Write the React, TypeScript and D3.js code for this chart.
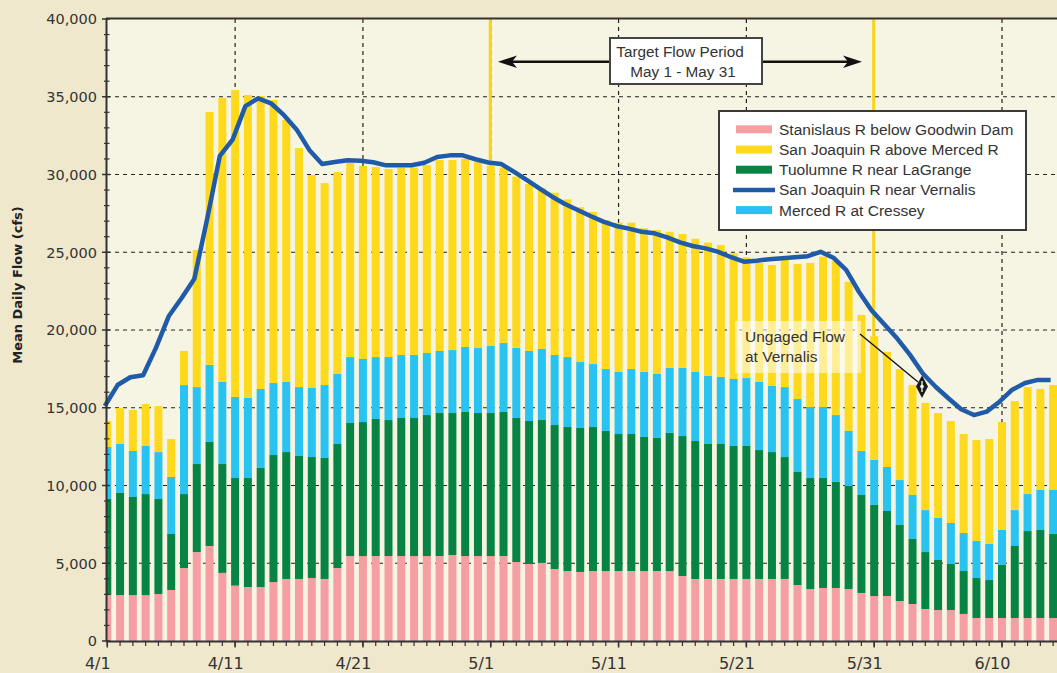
import React from "react";
import * as d3 from "d3";

// ---- categories: daily dates 4/1 .. 6/14 ----
const startDate = new Date(2006, 3, 1);
const endDate = new Date(2006, 5, 15);
const dates: Date[] = d3.timeDay.range(startDate, endDate);
const tickDates: Date[] = d3.timeDay.range(startDate, new Date(2006, 5, 11), 10);
const yTicks = [0, 5000, 10000, 15000, 20000, 25000, 30000, 35000, 40000];

// ---- series values (cfs) ----
const stanislaus = [
  2950, 2950, 2950, 2950, 3020, 3280, 4690, 5720, 6110, 4380,
  3560, 3470, 3470, 3790, 3990, 3990, 4050, 3990, 4690, 5460,
  5460, 5460, 5460, 5460, 5460, 5460, 5460, 5530, 5460, 5460,
  5460, 5460, 5080, 4950, 5020, 4630, 4500, 4440, 4500, 4500,
  4500, 4500, 4500, 4500, 4500, 4180, 3990, 3990, 3990, 3990,
  3990, 3990, 3990, 3990, 3600, 3340, 3410, 3410, 3340, 3090,
  2890, 2890, 2570, 2380, 2060, 1990, 1990, 1740, 1480, 1480,
  1480, 1480, 1480, 1480, 1480,
];
const tuolumne = [
  6180, 6570, 6310, 6500, 6110, 3600, 4760, 5660, 6690, 7000,
  6920, 7010, 7660, 8170, 8160, 7910, 7780, 7780, 7980, 8560,
  8620, 8820, 8750, 8880, 8880, 9070, 9200, 9130, 9270, 9200,
  9200, 9270, 9260, 9200, 9190, 9260, 9260, 9260, 9260, 9010,
  8810, 8810, 8620, 8560, 8880, 9000, 8870, 8680, 8680, 8550,
  8550, 8290, 8160, 7840, 7270, 7140, 7070, 6820, 6630, 6300,
  5860, 5470, 4890, 4180, 3660, 3220, 2960, 2760, 2570, 2440,
  3410, 4630, 5590, 5660, 5400,
];
const merced = [
  3350, 3150, 2960, 3090, 3020, 3670, 7010, 4950, 4950, 5280,
  5210, 5150, 5080, 4630, 4510, 4430, 4440, 4690, 4500, 4240,
  4060, 3980, 4050, 4050, 4050, 3990, 3990, 4050, 4180, 4180,
  4310, 4430, 4500, 4500, 4570, 4500, 4500, 4240, 4050, 3980,
  3990, 4180, 4180, 4110, 4180, 4380, 4440, 4370, 4310, 4310,
  4370, 4380, 4250, 4500, 4690, 4570, 4570, 4300, 3540, 2830,
  2890, 2830, 2890, 2830, 2700, 2700, 2640, 2450, 2380, 2320,
  2250, 2310, 2380, 2570, 2830,
];
const sjAboveMerced = [
  1670, 2310, 2640, 2700, 2960, 2440, 2190, 8820, 16270, 18260,
  19740, 19480, 18840, 18200, 16850, 15370, 13700, 12990, 12990, 12480,
  12410, 12220, 12090, 12050, 12050, 12090, 12280, 12220, 12090, 11960,
  11580, 11290, 11020, 10740, 10330, 10440, 10140, 9950, 9780, 9580,
  9600, 9410, 9240, 9260, 8760, 8610, 8570, 8580, 8490, 8080,
  7760, 7650, 7780, 8240, 8680, 9260, 9670, 9910, 9580, 8750,
  7970, 7400, 7140, 7070, 6890, 6750, 6560, 6360, 6500, 6750,
  6940, 7010, 6880, 6500, 6750,
];
const vernalis = [
  15110, 16460, 16960, 17090, 18850, 20880, 22040, 23280, 27100, 31200,
  32240, 34400, 34900, 34580, 33830, 32900, 31580, 30680, 30800, 30910,
  30890, 30790, 30590, 30590, 30590, 30760, 31130, 31230, 31230, 30980,
  30770, 30680, 30180, 29650, 29110, 28570, 28100, 27720, 27330, 26970,
  26690, 26520, 26320, 26220, 25960, 25640, 25400, 25250, 25020, 24680,
  24390, 24460, 24550, 24610, 24680, 24750, 25030, 24650, 23860, 22460,
  21260, 20350, 19450, 18400, 17200, 16350, 15610, 14900, 14530, 14750,
  15390, 16160, 16590, 16790, 16790,
];

const seriesKeys = ["stanislaus", "tuolumne", "merced", "sjAbove"];
const seriesColors: Record<string, string> = {
  stanislaus: "#f59fa3",
  tuolumne: "#078343",
  merced: "#28c3f0",
  sjAbove: "#ffda1c",
};
const lineColor = "#1f5ba8";

const legendItems = [
  { label: "Stanislaus R below Goodwin Dam", color: seriesColors.stanislaus, type: "bar" },
  { label: "San Joaquin R above Merced R", color: seriesColors.sjAbove, type: "bar" },
  { label: "Tuolumne R near LaGrange", color: seriesColors.tuolumne, type: "bar" },
  { label: "San Joaquin R near Vernalis", color: lineColor, type: "line" },
  { label: "Merced R at Cressey", color: seriesColors.merced, type: "bar" },
];

const W = 1057;
const H = 673;
const plotLeft = 107;
const plotRight = 1057;
const plotTop = 19;
const plotBottom = 641;

export default function App() {
  const x = d3
    .scaleTime()
    .domain([startDate, new Date(2006, 5, 10)])
    .range([107.3, 1002]);
  const y = d3.scaleLinear().domain([0, 40000]).range([plotBottom, plotTop]);

  const rows = dates.map((d, i) => ({
    date: d,
    stanislaus: stanislaus[i],
    tuolumne: tuolumne[i],
    merced: merced[i],
    sjAbove: sjAboveMerced[i],
  }));
  const stacked = d3.stack<any>().keys(seriesKeys)(rows);
  const barW = 8;

  const line = d3
    .line<number>()
    .x((_, i) => x(dates[i]) - 2.5)
    .y((v) => y(v));

  const fmtDate = d3.timeFormat("%-m/%-d");
  const fmtNum = d3.format(",");
  const minorY = d3.range(1000, 40000, 1000).filter((v) => v % 5000 !== 0);

  const may1 = x(new Date(2006, 4, 1));
  const may31 = x(new Date(2006, 4, 31));

  const sans = "'Liberation Sans', Arial, sans-serif";
  const tickFont = "'DejaVu Sans', sans-serif";
  const textCol = "#333";

  return (
    <div style={{ position: "absolute", left: 0, top: 0 }}>
      <style>{`body{margin:0}`}</style>
      <svg width={W} height={H} style={{ display: "block" }}>
        <defs>
          <clipPath id="plotClip">
            <rect x={plotLeft} y={plotTop} width={plotRight - plotLeft} height={plotBottom - plotTop} />
          </clipPath>
        </defs>
        <rect x={0} y={0} width={W} height={H} fill="#efe8cd" />
        <rect x={plotLeft} y={plotTop} width={plotRight - plotLeft} height={plotBottom - plotTop} fill="#f6f4e3" />

        {/* gridlines */}
        <g stroke="#222" strokeWidth={1.2} strokeDasharray="4,4">
          {yTicks.filter((t) => t > 0 && t < 40000).map((t) => (
            <line key={"gy" + t} x1={plotLeft} x2={plotRight} y1={y(t)} y2={y(t)} />
          ))}
          {tickDates.slice(1).map((d) => (
            <line key={"gx" + d.getTime()} x1={x(d)} x2={x(d)} y1={plotTop} y2={plotBottom} />
          ))}
        </g>

        {/* target period lines */}
        <g stroke="#f8d316" strokeWidth={3}>
          <line x1={may1 - 0.5} x2={may1 - 0.5} y1={plotTop} y2={plotBottom} />
          <line x1={may31 - 0.5} x2={may31 - 0.5} y1={plotTop} y2={plotBottom} />
        </g>

        {/* bars */}
        <g clipPath="url(#plotClip)">
          {stacked.map((s) => (
            <g key={s.key} fill={seriesColors[s.key]}>
              {s.map((d, i) => (
                <rect
                  key={i}
                  x={x(dates[i]) - barW / 2}
                  y={y(d[1])}
                  width={barW}
                  height={y(d[0]) - y(d[1])}
                />
              ))}
            </g>
          ))}
        </g>

        {/* Vernalis line */}
        <path
          d={line(vernalis) || ""}
          fill="none"
          stroke={lineColor}
          strokeWidth={4.5}
          strokeLinejoin="round"
        />

        {/* axes */}
        <g stroke="#333">
          <line x1={106.5} x2={106.5} y1={plotTop - 1} y2={plotBottom + 1} strokeWidth={2} />
          <line x1={106} x2={plotRight} y1={plotBottom + 0.5} y2={plotBottom + 0.5} strokeWidth={2} />
          <line x1={106} x2={plotRight} y1={plotTop - 0.5} y2={plotTop - 0.5} strokeWidth={2} />
          {minorY.map((v) => (
            <line key={"my" + v} x1={104} x2={109.5} y1={y(v)} y2={y(v)} strokeWidth={1.2} />
          ))}
          {yTicks.map((v) => (
            <line key={"My" + v} x1={102} x2={110} y1={y(v)} y2={y(v)} strokeWidth={1.5} />
          ))}
          {dates.map((d, i) => (
            <line key={"mx" + i} x1={x(d)} x2={x(d)} y1={plotBottom + 1} y2={plotBottom + 5} strokeWidth={1.2} />
          ))}
          {tickDates.map((d) => (
            <line key={"Mx" + d.getTime()} x1={x(d)} x2={x(d)} y1={plotBottom} y2={plotBottom + 6.5} strokeWidth={1.5} />
          ))}
        </g>

        {/* tick labels */}
        <g fontFamily={tickFont} fontSize={14.5} fill={textCol} textAnchor="end">
          {yTicks.map((v) => (
            <text key={"ly" + v} x={97} y={y(v) + 5.3}>
              {fmtNum(v)}
            </text>
          ))}
        </g>
        <g fontFamily={tickFont} fontSize={16} fill={textCol} textAnchor="middle">
          {tickDates.map((d) => (
            <text key={"lx" + d.getTime()} x={x(d) - 9.5} y={669}>
              {fmtDate(d)}
            </text>
          ))}
        </g>

        {/* y title */}
        <text
          transform="translate(22,285) rotate(-90)"
          textAnchor="middle"
          fontFamily="'DejaVu Sans', sans-serif"
          fontWeight="bold"
          fontSize={13}
          fill="#222"
        >
          Mean Daily Flow (cfs)
        </text>

        {/* target flow period annotation */}
        <g stroke="#111" strokeWidth={2.5}>
          <line x1={508} x2={610} y1={61.7} y2={61.7} />
          <line x1={762} x2={852} y1={61.7} y2={61.7} />
        </g>
        <path d="M498,61.7 L517,55.5 L512,61.7 L517,68 Z" fill="#111" />
        <path d="M862,61.7 L843,55.5 L848,61.7 L843,68 Z" fill="#111" />
        <rect x={610} y={38} width={152} height={46} fill="#fff" stroke="#444" strokeWidth={2} />
        <g fontFamily={sans} fontSize={15.3} fill={textCol} textAnchor="middle">
          <text x={680} y={57}>Target Flow Period</text>
          <text x={683} y={76.5}>May 1 - May 31</text>
        </g>

        {/* legend */}
        <rect x={719} y={111} width={307} height={119} fill="#fff" stroke="#3a3a3a" strokeWidth={2} />
        {legendItems.map((it, i) => {
          const cy = 129.3 + i * 20.2;
          return (
            <g key={it.label}>
              {it.type === "bar" ? (
                <rect x={736} y={cy - 4} width={36} height={8} fill={it.color} />
              ) : (
                <line x1={733} x2={775} y1={cy} y2={cy} stroke={it.color} strokeWidth={4.5} />
              )}
              <text x={779} y={cy + 5.5} fontFamily={sans} fontSize={15.5} fill={textCol}>
                {it.label}
              </text>
            </g>
          );
        })}

        {/* ungaged flow annotation */}
        <rect x={735} y={321} width={126} height={52} fill="#fff" fillOpacity={0.55} />
        <g fontFamily={sans} fontSize={15.5} fill={textCol}>
          <text x={745} y={342}>Ungaged Flow</text>
          <text x={745} y={362}>at Vernalis</text>
        </g>
        <line x1={860} y1={334} x2={918} y2={382} stroke="#111" strokeWidth={1.3} />
        <path d="M922,375.5 L928,386.5 L922,398 L916,386.5 Z" fill="#1a1a1a" />
        <line x1={922} x2={922} y1={381} y2={392} stroke="#fff" strokeWidth={1.3} />
        <circle cx={922} cy={386.5} r={1.8} fill="#fff" />
      </svg>
    </div>
  );
}
